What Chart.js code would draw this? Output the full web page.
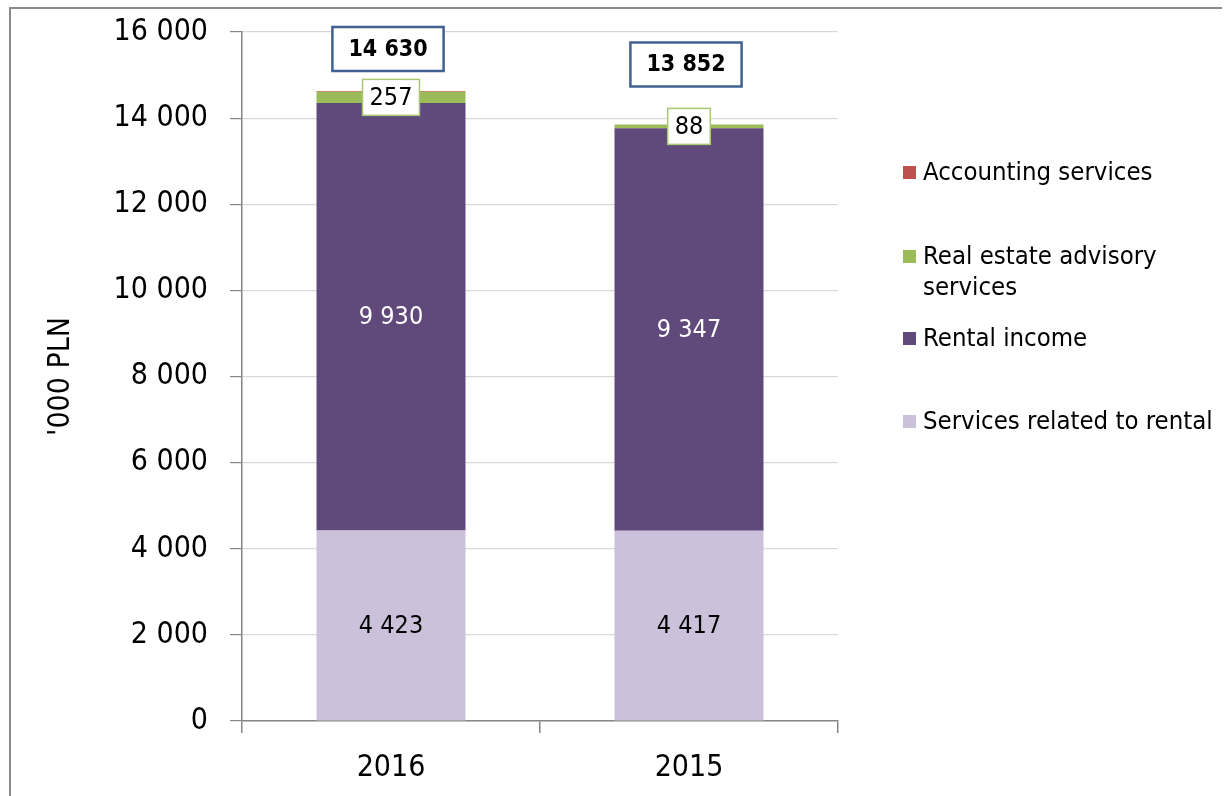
<!DOCTYPE html>
<html>
<head>
<meta charset="utf-8">
<script src="https://cdn.jsdelivr.net/npm/chart.js@4"></script>
<style>
  body { margin: 0; background: #fff; }
  #wrap { position: relative; width: 1224px; height: 796px; }
</style>
</head>
<body>
<div id="wrap"><canvas id="revenueChart"></canvas></div>
<script>
const categories = ["2016", "2015"];
const servicesRental = [4423, 4417];
const rentalIncome = [9930, 9347];
const advisory = [257, 88];
const accounting = [20, 0];
const totals = [14630, 13852];
const yTicks = [0, 2000, 4000, 6000, 8000, 10000, 12000, 14000, 16000];
const seriesNames = ["Services related to rental", "Rental income", "Real estate advisory services", "Accounting services"];

const FONT = "'DejaVu Sans Condensed', 'DejaVu Sans', sans-serif";
const colors = ["#CCC1DA", "#604A7B", "#9BBB59", "#C0504D"];
const fmt = v => String(v).replace(/\B(?=(\d{3})+(?!\d))/g, " ");

// how far above the bar top each total box sits (px)
const totalOffsets = [42, 60];

const labelsPlugin = {
  id: "valueLabels",
  afterDatasetsDraw(chart) {
    const ctx = chart.ctx;
    ctx.save();
    ctx.textAlign = "center";
    ctx.textBaseline = "middle";

    // segment labels
    [0, 1].forEach(di => {
      chart.getDatasetMeta(di).data.forEach((bar, i) => {
        const y = (bar.y + bar.base) / 2;
        ctx.font = "25px " + FONT;
        ctx.fillStyle = di === 1 ? "#ffffff" : "#000000";
        ctx.fillText(fmt(chart.data.datasets[di].data[i]), bar.x, y + 1);
      });
    });

    // advisory labels in small boxes
    chart.getDatasetMeta(2).data.forEach((bar, i) => {
      const y = (bar.y + bar.base) / 2;
      const txt = fmt(advisory[i]);
      ctx.font = "25px " + FONT;
      const w = ctx.measureText(txt).width + 14, h = 36;
      ctx.fillStyle = "#fff";
      ctx.fillRect(bar.x - w / 2, y - h / 2, w, h);
      ctx.strokeStyle = "#A9C873";
      ctx.lineWidth = 1.5;
      ctx.strokeRect(bar.x - w / 2, y - h / 2, w, h);
      ctx.fillStyle = "#000";
      ctx.fillText(txt, bar.x, y + 1);
    });

    // totals
    const topMeta = chart.getDatasetMeta(3);
    topMeta.data.forEach((bar, i) => {
      const y = bar.y - totalOffsets[i];
      const txt = fmt(totals[i]);
      ctx.font = "bold 23px " + FONT;
      const w = ctx.measureText(txt).width + 32, h = 44;
      ctx.fillStyle = "#fff";
      ctx.fillRect(bar.x - 3 - w / 2, y - h / 2, w, h);
      ctx.strokeStyle = "#41618F";
      ctx.lineWidth = 2.5;
      ctx.strokeRect(bar.x - 3 - w / 2, y - h / 2, w, h);
      ctx.fillStyle = "#000";
      ctx.fillText(txt, bar.x - 3, y + 1);
    });
    ctx.restore();
  }
};

const legendPlugin = {
  id: "sideLegend",
  afterDraw(chart) {
    const ctx = chart.ctx;
    const items = [
      { ds: 3, lines: ["Accounting services"], y: 172 },
      { ds: 2, lines: ["Real estate advisory", "services"], y: 256 },
      { ds: 1, lines: ["Rental income"], y: 338 },
      { ds: 0, lines: ["Services related to rental"], y: 421 }
    ];
    ctx.save();
    ctx.font = "25.5px " + FONT;
    ctx.textBaseline = "middle";
    ctx.textAlign = "left";
    items.forEach(it => {
      ctx.fillStyle = chart.data.datasets[it.ds].backgroundColor;
      ctx.fillRect(903, it.y - 6, 13, 13);
      ctx.fillStyle = "#000";
      it.lines.forEach((t, k) => ctx.fillText(t, 923, it.y + 1 + k * 31));
    });

    // outer frame
    ctx.strokeStyle = "#8a8a8a";
    ctx.lineWidth = 2;
    ctx.beginPath();
    ctx.moveTo(10, 800);
    ctx.lineTo(10, 8);
    ctx.lineTo(1222, 8);
    ctx.stroke();
    ctx.restore();
  }
};

new Chart(document.getElementById("revenueChart"), {
  type: "bar",
  data: {
    labels: categories,
    datasets: [servicesRental, rentalIncome, advisory, accounting].map((d, i) => ({
      label: seriesNames[i],
      data: d,
      backgroundColor: colors[i],
      barPercentage: 0.5,
      categoryPercentage: 1
    }))
  },
  options: {
    responsive: true,
    maintainAspectRatio: false,
    animation: false,
    layout: { padding: { left: 0, right: 386, top: 32, bottom: 0 } },
    plugins: { legend: { display: false }, tooltip: { enabled: false } },
    scales: {
      x: {
        stacked: true,
        afterFit: s => { s.height = 75; },
        border: { color: "#868686", width: 1.5 },
        grid: { drawOnChartArea: false, tickLength: 12, color: "#868686", lineWidth: 1.5 },
        ticks: { color: "#000", padding: 17, font: { size: 30, family: FONT } }
      },
      y: {
        stacked: true,
        min: 0,
        max: 16000,
        afterFit: s => { s.width = 242; s.paddingTop = 0; s.paddingBottom = 0; },
        afterBuildTicks: s => { s.ticks = yTicks.map(v => ({ value: v })); },
        border: { color: "#868686", width: 1.5 },
        grid: { color: "#D9D9D9", tickColor: "#868686", tickLength: 12, lineWidth: 1.2 },
        ticks: { color: "#000", padding: 22, font: { size: 30, family: FONT }, callback: v => fmt(v) },
        title: {
          display: true,
          text: "'000 PLN",
          color: "#000",
          font: { size: 30, family: FONT },
          padding: { top: 43, bottom: 0 }
        }
      }
    }
  },
  plugins: [labelsPlugin, legendPlugin]
});
</script>
</body>
</html>
